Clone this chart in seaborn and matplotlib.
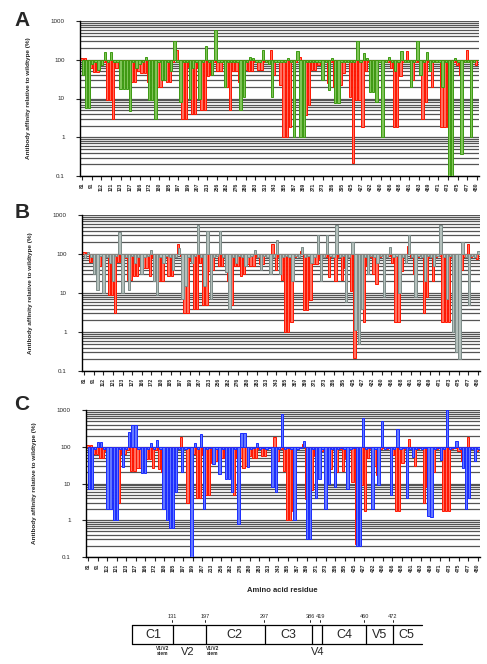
import numpy as np
import seaborn as sns
import matplotlib.pyplot as plt
from matplotlib.ticker import LogLocator, FixedLocator, NullFormatter

sns.set_style('white')
plt.rcParams['font.family'] = ['Liberation Sans', 'DejaVu Sans']

# residue labels on the x axis (every third mutated residue)
residue_labels = ['81', '91', '112', '121', '123', '127', '166', '172', '180', '185',
                  '197', '199', '207', '213', '256', '262', '276', '280', '283', '313',
                  '343', '365', '367', '369', '371', '373', '386', '395', '425', '427',
                  '432', '450', '456', '458', '461', '463', '469', '471', '473', '475',
                  '477', '480']

# affinity relative to wildtype (%), red reference antibody (same in all panels)
red = [110, 110, 62, 62, 49, 49, 75, 85, 9, 9, 3, 63, 63, 80, 22, 22, 27, 27, 50, 45,
       45, 27, 80, 25, 20, 20, 85, 27, 27, 85, 180, 90, 3, 3, 65, 4, 4, 60, 5, 5,
       37, 40, 90, 50, 50, 85, 20, 5, 50, 50, 27, 30, 55, 50, 50, 85, 55, 55, 90, 90,
       180, 40, 85, 22, 1, 1, 1.8, 85, 90, 120, 3.7, 3.7, 6.7, 55, 55, 75, 90, 85, 25, 85,
       20, 85, 22, 45, 85, 11, 0.22, 9, 9, 1.8, 50, 85, 30, 17, 85, 90, 85, 90, 60, 1.8,
       1.8, 37, 85, 165, 85, 30, 85, 90, 3, 8, 85, 20, 85, 90, 1.8, 1.8, 1.8, 85, 90, 75,
       40, 85, 180, 85, 90, 75]

# panel A antibody (green)
green = [41, 5.6, 5.6, 80, 85, 55, 75, 160, 90, 160, 85, 90, 18, 18, 18, 4.8, 90, 60, 80, 90,
         120, 9, 9, 3, 85, 30, 30, 85, 50, 300, 90, 8, 90, 85, 10, 60, 85, 10, 90, 230,
         85, 40, 600, 85, 90, 20, 85, 90, 85, 90, 5, 11, 85, 115, 110, 85, 90, 180, 85, 80,
         11, 85, 90, 85, 90, 110, 85, 1, 165, 1, 1, 85, 90, 85, 90, 85, 30, 85, 17, 110,
         7.5, 7.5, 85, 90, 85, 90, 85, 300, 85, 150, 110, 15, 15, 8, 85, 1, 85, 120, 85, 50,
         85, 170, 85, 90, 20, 85, 300, 40, 85, 155, 50, 85, 90, 85, 20, 85, 0.1, 0.1, 110, 85,
         0.38, 85, 90, 1, 85, 100]

# panel B antibody (grey)
grey = [80, 110, 85, 30, 12, 90, 10, 85, 60, 20, 90, 370, 10, 85, 12, 90, 60, 85, 30, 85,
        90, 130, 20, 9, 85, 60, 90, 85, 40, 85, 140, 7, 15, 85, 60, 90, 550, 85, 15, 400,
        7, 85, 90, 400, 85, 35, 4, 85, 60, 90, 85, 50, 85, 90, 130, 85, 40, 90, 85, 30,
        85, 230, 30, 85, 90, 85, 20, 90, 85, 150, 85, 90, 60, 85, 300, 20, 85, 300, 90, 85,
        550, 85, 90, 6, 85, 200, 1.1, 0.5, 4, 85, 30, 90, 85, 60, 90, 8, 85, 150, 85, 90,
        10, 85, 60, 300, 85, 8, 90, 85, 20, 90, 85, 50, 90, 550, 85, 7, 90, 1, 0.3, 0.2,
        200, 85, 5, 90, 85, 120]

# panel C antibody (blue)
blue = [7.1, 7.1, 85, 138, 138, 85, 2, 2, 1, 1, 85, 29, 85, 250, 400, 400, 85, 19, 19, 85,
        125, 85, 150, 85, 2, 1, 0.6, 0.6, 6, 85, 20, 85, 90, 0.1, 130, 85, 220, 2, 85, 90,
        35, 85, 18, 85, 13, 13, 6, 85, 0.8, 230, 230, 29, 85, 90, 125, 85, 90, 85, 90, 8,
        6, 85, 800, 85, 90, 85, 1, 85, 90, 140, 0.3, 0.3, 85, 4, 13, 85, 2, 10, 85, 8,
        85, 90, 85, 7, 85, 90, 0.2, 0.2, 600, 85, 90, 2, 85, 9, 500, 85, 90, 5, 85, 300,
        85, 90, 4, 85, 53, 85, 90, 85, 90, 1.3, 1.2, 85, 90, 43, 85, 1000, 85, 90, 140, 85,
        26, 2, 4, 85, 40, 85]

RED = ('#ff1500', '#ff7060')
GREEN = ('#3c9a12', '#80c458')
GREY = ('#7d8c89', '#b4c0bc')
BLUE = ('#1a2cff', '#6478ff')

W, H = 487, 664
fig = plt.figure(figsize=(W / 100, H / 100), dpi=100)


def box(x0, x1, ytop, ybot):
    return [x0 / W, 1 - ybot / H, (x1 - x0) / W, (ybot - ytop) / H]


def panel(rect, other, cols):
    ax = fig.add_axes(rect)
    n = len(red)
    x = np.arange(n)
    ax.set_yscale('log')
    ax.set_ylim(0.1, 1000)
    ax.set_xlim(-0.7, n - 0.3)
    ax.yaxis.set_major_locator(FixedLocator([0.1, 1, 10, 100, 1000]))
    ax.set_yticklabels(['0.1', '1', '10', '100', '1000'])
    ax.yaxis.set_minor_locator(LogLocator(base=10, subs=np.arange(2, 10)))
    ax.yaxis.set_minor_formatter(NullFormatter())
    ax.grid(True, which='both', axis='y', color='#555555', lw=0.9)
    ax.grid(False, axis='x')
    ax.set_axisbelow(True)

    ax.bar(x - 0.18, np.array(red) - 100, bottom=100, width=0.75,
           color=RED[1], edgecolor=RED[0], lw=0.7, zorder=2)
    ax.bar(x + 0.18, np.array(other) - 100, bottom=100, width=0.75,
           color=cols[1], edgecolor=cols[0], lw=0.7, zorder=3)

    ticks = np.linspace(0, n - 1, len(residue_labels))
    ax.set_xticks(ticks)
    ax.set_xticklabels(residue_labels, rotation=90, fontsize=3.6, fontweight='bold')
    ax.tick_params(axis='x', direction='out', length=3, width=0.8, pad=2, bottom=True)
    ax.tick_params(axis='y', which='major', direction='out', length=3, width=0.8,
                   labelsize=4.5, pad=8, left=True)
    ax.tick_params(axis='y', which='minor', left=False)
    for s in ['top', 'right']:
        ax.spines[s].set_visible(False)
    for s in ['left', 'bottom']:
        ax.spines[s].set_color('black')
        ax.spines[s].set_linewidth(1.0)
    ax.set_ylabel('Antibody affinity relative to wildtype (%)', fontsize=4.6,
                  fontweight='bold', labelpad=14)
    return ax


panel(box(80, 479, 21, 176), green, GREEN)
panel(box(82, 480, 215, 371), grey, GREY)
panel(box(86, 480, 410, 557), blue, BLUE)

for lab, y in [('A', 20), ('B', 213), ('C', 405)]:
    fig.text(22 / W, 1 - y / H, lab, fontsize=15, fontweight='bold',
             ha='center', va='center')

fig.text(282 / W, 1 - 591 / H, 'Amino acid residue', fontsize=5.5,
         fontweight='bold', ha='center', va='center')

# gp120 domain schematic
sk = fig.add_axes([0, 0, 1, 1])
sk.set_xlim(0, W)
sk.set_ylim(H, 0)
sk.axis('off')
sk.plot([132, 422], [625, 625], color='black', lw=0.9)
sk.plot([132, 422], [644, 644], color='black', lw=0.9)
for xd in [132, 173, 206, 265, 312, 322, 366, 393]:
    sk.plot([xd, xd], [625, 644], color='black', lw=0.9)
for txt, xp in [('131', 172), ('197', 205), ('297', 264), ('386', 310),
                ('419', 320), ('460', 364), ('472', 393)]:
    sk.text(xp, 616, txt, fontsize=4, ha='center', va='center')
    sk.plot([xp, xp], [620, 621.5], color='black', lw=0.6)
for txt, xp in [('C1', 153), ('C2', 234), ('C3', 288), ('C4', 344), ('V5', 380), ('C5', 406)]:
    sk.text(xp, 634.5, txt, fontsize=9, ha='center', va='center')
sk.text(163, 651, 'V1/V2\nstem', fontsize=3.5, fontweight='bold', ha='center',
        va='center', linespacing=1.1)
sk.text(213, 651, 'V1/V2\nstem', fontsize=3.5, fontweight='bold', ha='center',
        va='center', linespacing=1.1)
sk.text(188, 652, 'V2', fontsize=8, ha='center', va='center')
sk.text(318, 652, 'V4', fontsize=8, ha='center', va='center')

fig.savefig('out.png', dpi=100)
